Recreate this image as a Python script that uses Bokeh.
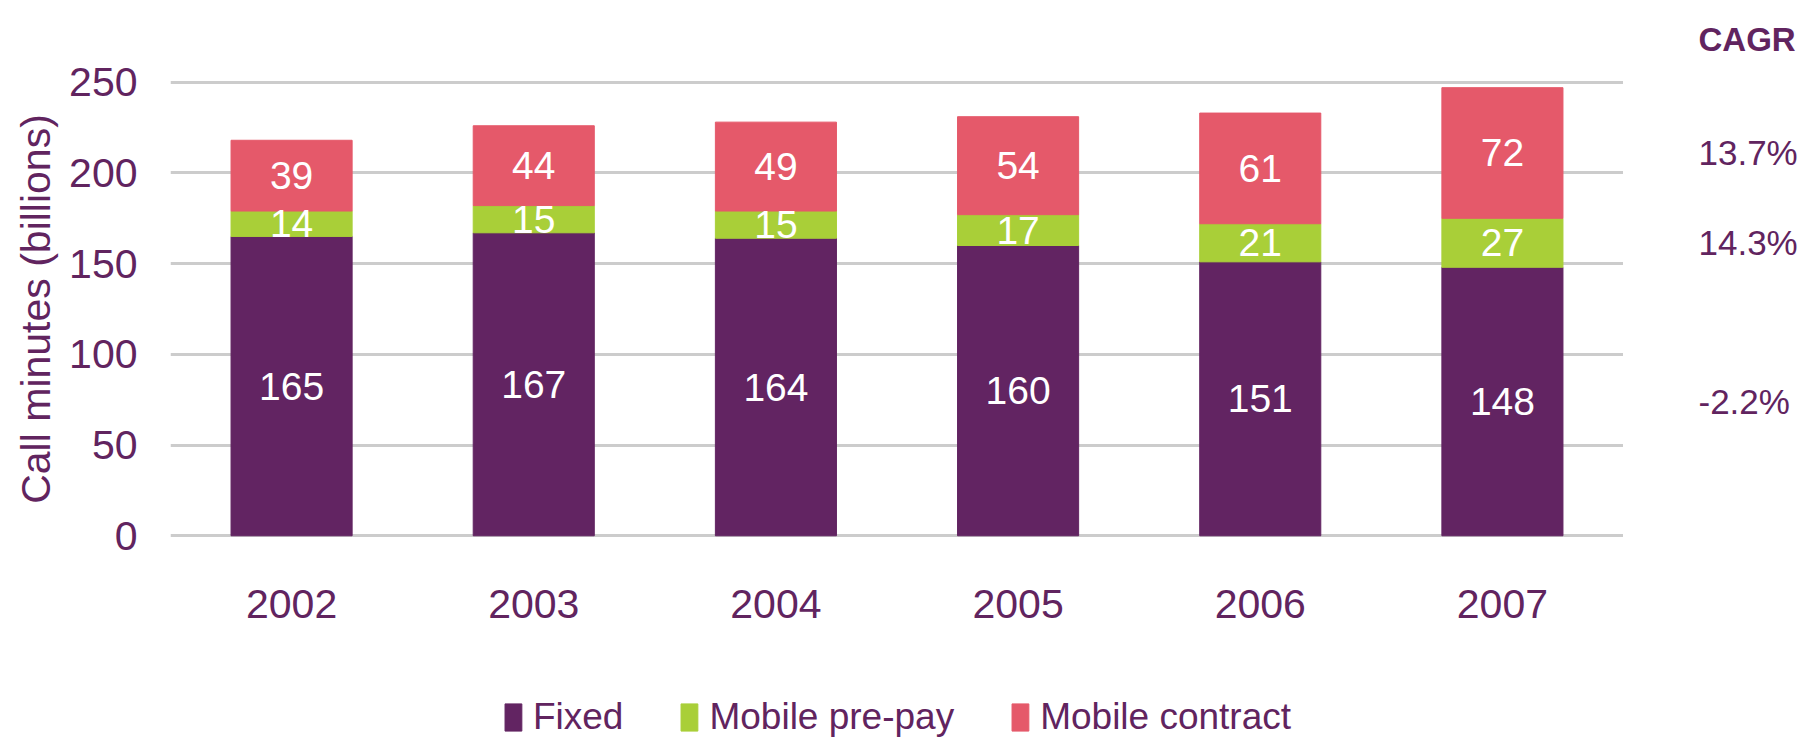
import numpy as np
from bokeh.plotting import figure
from bokeh.layouts import row, column
from bokeh.models import ColumnDataSource, Label, Range1d, FixedTicker, Legend, LegendItem
from bokeh.core.properties import value
from bokeh.embed import file_html
from bokeh.resources import INLINE

# ---- data ----
years = ["2002", "2003", "2004", "2005", "2006", "2007"]
fixed = [165, 167, 164, 160, 151, 148]
prepay = [14, 15, 15, 17, 21, 27]
contract = [39, 44, 49, 54, 61, 72]
series_names = ["Fixed", "Mobile pre-pay", "Mobile contract"]
cagr_fixed = "-2.2%"
cagr_prepay = "14.3%"
cagr_contract = "13.7%"
y_ticks = [0, 50, 100, 150, 200, 250]

PURPLE = "#622462"
GREEN = "#a9cf38"
RED = "#e5596a"
COLORS = [PURPLE, GREEN, RED]
TEXT = "#61245f"
FONT = "Liberation Sans"

H = 694
LEG_H = 46
TOP, BOTTOM, LEFT = 76, 156, 170
MAIN_W = 1623
SIDE_W = 183
Y0, Y1 = -1.5, 251.5

xi = list(range(len(years)))
src = ColumnDataSource(dict(xi=xi, fixed=fixed, prepay=prepay, contract=contract))
yr = Range1d(Y0, Y1)

p = figure(x_range=Range1d(-0.5, len(years) - 0.5), y_range=yr,
           width=MAIN_W, height=H, output_backend="svg", toolbar_location=None,
           min_border_left=LEFT, min_border_right=0, min_border_top=TOP,
           min_border_bottom=BOTTOM)
p.outline_line_color = None

rs = p.vbar_stack(["fixed", "prepay", "contract"], x="xi", width=0.5,
                  color=COLORS, source=src)

# segment value labels
f = np.array(fixed, dtype=float)
pp = np.array(prepay, dtype=float)
c = np.array(contract, dtype=float)
lab = ColumnDataSource(dict(
    x=xi * 3,
    y=list(f / 2) + list(f + pp / 2) + list(f + pp + c / 2),
    t=[str(v) for v in fixed + prepay + contract],
))
p.text(x="x", y="y", text="t", source=lab, text_color="white",
       text_font=value(FONT), text_font_size="39px",
       text_align="center", text_baseline="middle")

# axes
for ax in (p.xaxis[0], p.yaxis[0]):
    ax.axis_line_color = None
    ax.major_tick_line_color = None
    ax.minor_tick_line_color = None
    ax.major_tick_out = 0
    ax.major_tick_in = 0
    ax.major_label_text_font = FONT
    ax.major_label_text_font_size = "41px"
    ax.major_label_text_color = TEXT

p.xaxis.ticker = FixedTicker(ticks=xi)
p.xaxis.major_label_overrides = {i: y for i, y in zip(xi, years)}
p.xaxis.major_label_standoff = 51
p.yaxis.ticker = FixedTicker(ticks=y_ticks)
p.yaxis.major_label_standoff = 33
p.yaxis.axis_label = "Call minutes (billions)"
p.yaxis.axis_label_text_font = FONT
p.yaxis.axis_label_text_font_size = "41px"
p.yaxis.axis_label_text_font_style = "normal"
p.yaxis.axis_label_text_color = TEXT
p.yaxis.axis_label_standoff = 7

p.xgrid.grid_line_color = None
p.ygrid.ticker = FixedTicker(ticks=y_ticks)
p.ygrid.grid_line_color = "#cccccc"
p.ygrid.grid_line_width = 3

# ---- CAGR column (side figure with the same vertical scale) ----
p2 = figure(width=SIDE_W, height=H, output_backend="svg", toolbar_location=None,
            x_range=Range1d(0, SIDE_W), y_range=yr,
            x_axis_location=None, y_axis_location=None,
            min_border_left=0, min_border_right=0, min_border_top=TOP,
            min_border_bottom=BOTTOM, title="CAGR")
p2.outline_line_color = None
p2.grid.visible = False
p2.title.text_font = FONT
p2.title.text_font_size = "33px"
p2.title.text_font_style = "bold"
p2.title.text_color = TEXT
p2.title.align = "left"
p2.title.vertical_align = "top"
p2.title.offset = 75
p2.title.standoff = 40

cagr_x = 75
for txt, yv in [(cagr_contract, f[-1] + pp[-1] + c[-1] / 2),
                (cagr_prepay, f[-1] + pp[-1] / 2),
                (cagr_fixed, f[-1] / 2)]:
    p2.add_layout(Label(x=cagr_x, y=yv, x_units="screen", y_units="data", text=txt,
                        text_font=FONT, text_font_size="35px", text_color=TEXT,
                        text_align="left", text_baseline="middle"))

# ---- legend strip below (its stacked bars lie outside its view, only the legend shows) ----
p3 = figure(width=MAIN_W + SIDE_W, height=LEG_H, output_backend="svg",
            toolbar_location=None, x_range=Range1d(-0.5, len(years) - 0.5),
            y_range=Range1d(1000, 1001),
            x_axis_location=None, y_axis_location=None,
            min_border_left=LEFT, min_border_right=SIDE_W,
            min_border_top=0, min_border_bottom=0)
p3.outline_line_color = None
p3.grid.visible = False
swatches = p3.vbar_stack(["fixed", "prepay", "contract"], x="xi", width=0.5,
                         color=COLORS, source=src)
lg = Legend(items=[LegendItem(label=n, renderers=[r]) for n, r in zip(series_names, swatches)],
            orientation="horizontal", location="center",
            label_text_font=FONT, label_text_font_size="37px", label_text_color=TEXT,
            glyph_width=21, glyph_height=34, label_standoff=10, spacing=55,
            padding=0, margin=0, border_line_color=None, background_fill_alpha=0)
p3.add_layout(lg, "center")

layout = column(row(p, p2, spacing=0), p3, spacing=0)
open("out.html", "w").write(file_html(layout, INLINE))
